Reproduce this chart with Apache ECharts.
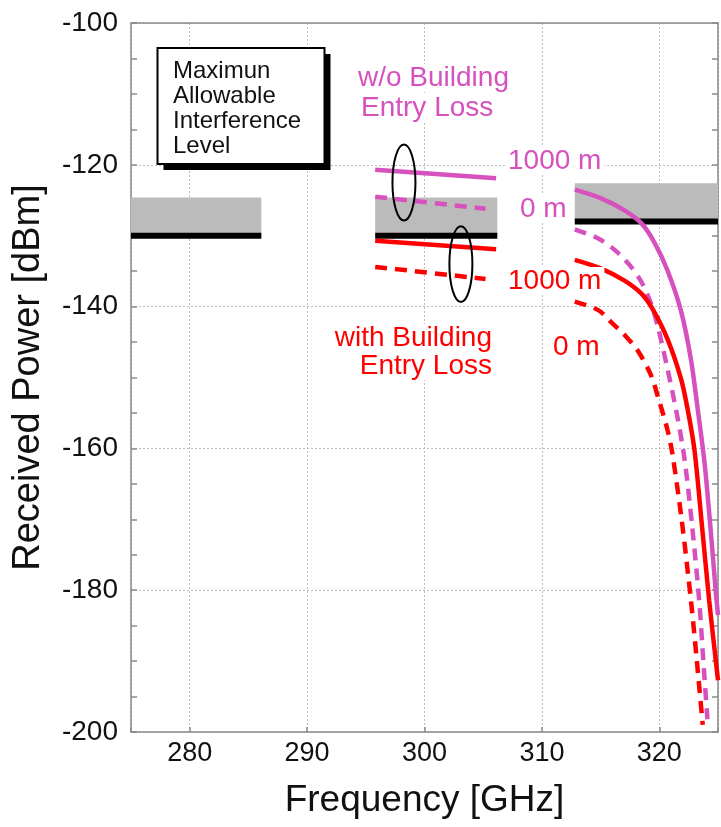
<!DOCTYPE html>
<html>
<head>
<meta charset="utf-8">
<script src="https://cdn.jsdelivr.net/npm/echarts@6/dist/echarts.min.js"></script>
<style>
  html, body { margin: 0; padding: 0; background: #fff; }
  #chart { width: 721px; height: 827px; }
</style>
</head>
<body>
<div id="chart"></div>
<script>
// Tick labels
const xTickLabels = [280, 290, 300, 310, 320];
const yTickLabels = [-200, -180, -160, -140, -120, -100];

// Maximum allowable interference level per band: [fStart, fEnd, level, bandTop] (GHz, dBm)
const limitBands = [
  [275.0, 286.1, -130, -124.6],
  [295.8, 306.2, -130, -124.6],
  [312.8, 325.0, -128, -122.6]
];

// Received power, without building entry loss
const woBel1000Mid = [[295.8, -120.7], [306.1, -121.9]];
const woBel0Mid = [[295.8, -124.5], [305.2, -126.2]];
const woBel1000 = [
  [312.8, -123.5], [315.0, -124.7], [317.0, -126.4], [318.5, -128.3], [319.6, -131.0],
  [320.7, -134.9], [321.85, -140.6], [322.7, -147.5], [323.3, -154.8], [323.85, -162.0],
  [324.35, -171.0], [324.8, -180.0], [325.0, -183.5]
];
const woBel0 = [
  [312.8, -129.1], [314.8, -130.4], [316.2, -132.0], [317.6, -134.4], [318.5, -136.6],
  [319.3, -139.6], [319.9, -143.0], [320.7, -148.8], [321.5, -155.2], [322.15, -161.5],
  [322.8, -171.0], [323.4, -181.5], [323.75, -190.0], [324.1, -198.2]
];

// Received power, with building entry loss
const withBel1000Mid = [[295.8, -130.7], [306.1, -131.9]];
const withBel0Mid = [[295.8, -134.4], [305.2, -136.1]];
const withBel1000 = [
  [312.8, -133.4], [315.0, -134.6], [317.0, -136.3], [318.5, -138.2], [319.45, -140.4],
  [320.7, -144.6], [321.85, -150.2], [322.45, -154.8], [323.0, -160.3], [323.6, -170.3],
  [324.25, -181.5], [325.0, -192.7]
];
const withBel0 = [
  [312.8, -139.3], [314.8, -140.5], [315.9, -142.2], [317.1, -144.1], [318.2, -146.3],
  [319.3, -149.7], [319.9, -152.8], [320.7, -157.4], [321.1, -160.6], [321.9, -170.0],
  [322.7, -181.5], [323.2, -190.0], [323.7, -199.0]
];

// Grouping ellipses: [centerFreq, centerPower, halfWidthGHz, halfHeightDb]
const groupEllipses = [
  [298.25, -122.5, 0.98, 5.35],
  [303.1, -134.0, 0.98, 5.35]
];

const MAGENTA = '#d651be';
const RED = '#ff0000';
const FONT = '"Liberation Sans", Arial, Helvetica, sans-serif';

const chart = echarts.init(document.getElementById('chart'), null, { renderer: 'canvas' });

function curve(name, data, color, dashed) {
  return {
    name: name,
    type: 'line',
    data: data,
    showSymbol: false,
    symbol: 'none',
    smooth: 0.3,
    z: 5,
    lineStyle: {
      color: color,
      width: 4.5,
      type: dashed ? [12, 8] : 'solid',
      cap: 'butt'
    },
    silent: true
  };
}

const series = [];

// Shaded interference bands
series.push({
  name: 'band',
  type: 'line',
  data: [],
  silent: true,
  z: 1,
  markArea: {
    silent: true,
    itemStyle: { color: '#bbbbbb' },
    data: limitBands.map(b => [{ coord: [b[0], b[3]] }, { coord: [b[1], b[2]] }])
  }
});

// Black limit lines
limitBands.forEach((b, i) => {
  series.push({
    name: 'limit' + i,
    type: 'line',
    data: [[b[0], b[2]], [b[1], b[2]]],
    symbol: 'none',
    silent: true,
    z: 3,
    lineStyle: { color: '#000', width: 6, cap: 'butt' }
  });
});

series.push(curve('w/o 1000 m mid', woBel1000Mid, MAGENTA, false));
series.push(curve('w/o 0 m mid', woBel0Mid, MAGENTA, true));
series.push(curve('with 1000 m mid', withBel1000Mid, RED, false));
series.push(curve('with 0 m mid', withBel0Mid, RED, true));
series.push(curve('w/o 1000 m', woBel1000, MAGENTA, false));
series.push(curve('w/o 0 m', woBel0, MAGENTA, true));
series.push(curve('with 1000 m', withBel1000, RED, false));
series.push(curve('with 0 m', withBel0, RED, true));

// Ellipses grouping the short segments
series.push({
  name: 'groups',
  type: 'custom',
  data: groupEllipses,
  silent: true,
  z: 6,
  renderItem: function (params, api) {
    const c = api.coord([api.value(0), api.value(1)]);
    const s = api.size([api.value(2), api.value(3)]);
    return {
      type: 'ellipse',
      shape: { cx: c[0], cy: c[1], rx: s[0], ry: s[1] },
      style: { fill: 'none', stroke: '#000', lineWidth: 2 }
    };
  }
});

const axisLineStyle = { color: '#8a8a8a', width: 1.5 };
const gridLineStyle = { color: '#bdbdbd', width: 1, type: [2, 2] };

function label(text, x, y, size, color, align) {
  return {
    type: 'text',
    z: 22,
    style: {
      text: text,
      x: x,
      y: y,
      font: size + 'px ' + FONT,
      fill: color,
      textAlign: align || 'left',
      textVerticalAlign: 'middle',
      backgroundColor: '#fff',
      padding: [0, 3]
    }
  };
}

const option = {
  animation: false,
  backgroundColor: '#fff',
  textStyle: { fontFamily: FONT },
  grid: { left: 131, top: 23, right: 2, bottom: 95, containLabel: false },
  xAxis: [
    {
      type: 'value',
      position: 'bottom',
      min: 275,
      max: 325,
      splitNumber: 5,
      name: 'Frequency [GHz]',
      nameLocation: 'middle',
      nameGap: 50,
      nameTextStyle: { fontSize: 37, color: '#111', fontFamily: FONT },
      axisLine: { show: true, lineStyle: axisLineStyle },
      axisTick: { show: true, inside: true, length: 5, lineStyle: axisLineStyle },
      axisLabel: {
        fontSize: 27,
        color: '#111',
        margin: 8,
        fontFamily: FONT,
        formatter: v => (xTickLabels.indexOf(v) >= 0 ? String(v) : '')
      },
      splitLine: { show: true, lineStyle: gridLineStyle }
    },
    {
      type: 'value',
      position: 'top',
      min: 275,
      max: 325,
      splitNumber: 5,
      axisLine: { show: true, lineStyle: axisLineStyle },
      axisTick: { show: false },
      axisLabel: { show: false },
      splitLine: { show: false }
    }
  ],
  yAxis: [
    {
      type: 'value',
      position: 'left',
      min: -200,
      max: -100,
      interval: 20,
      name: 'Received Power [dBm]',
      nameLocation: 'middle',
      nameGap: 83,
      nameTextStyle: { fontSize: 38, color: '#111', fontFamily: FONT },
      axisLine: { show: true, lineStyle: axisLineStyle },
      axisTick: { show: true, inside: true, length: 6, lineStyle: axisLineStyle },
      minorTick: { show: true, splitNumber: 4, length: 6, lineStyle: axisLineStyle },
      axisLabel: {
        fontSize: 28,
        color: '#111',
        margin: 13,
        fontFamily: FONT,
        formatter: v => (yTickLabels.indexOf(v) >= 0 ? String(v) : '')
      },
      splitLine: { show: true, lineStyle: gridLineStyle }
    },
    {
      type: 'value',
      position: 'right',
      min: -200,
      max: -100,
      interval: 20,
      axisLine: { show: true, lineStyle: axisLineStyle },
      axisTick: { show: true, inside: true, length: 6, lineStyle: axisLineStyle },
      minorTick: { show: true, splitNumber: 4, length: 6, lineStyle: axisLineStyle },
      axisLabel: { show: false },
      splitLine: { show: false }
    }
  ],
  series: series,
  graphic: [
    // Note box with drop shadow
    { type: 'rect', z: 20, shape: { x: 163.5, y: 54, width: 167, height: 116 }, style: { fill: '#000' } },
    { type: 'rect', z: 21, shape: { x: 157.5, y: 48, width: 167, height: 116 }, style: { fill: '#fff', stroke: '#000', lineWidth: 2 } },
    { type: 'text', z: 22, style: { text: 'Maximun', x: 173, y: 71, font: '24px ' + FONT, fill: '#111', textVerticalAlign: 'middle' } },
    { type: 'text', z: 22, style: { text: 'Allowable', x: 173, y: 96, font: '24px ' + FONT, fill: '#111', textVerticalAlign: 'middle' } },
    { type: 'text', z: 22, style: { text: 'Interference', x: 173, y: 121, font: '24px ' + FONT, fill: '#111', textVerticalAlign: 'middle' } },
    { type: 'text', z: 22, style: { text: 'Level', x: 173, y: 146, font: '24px ' + FONT, fill: '#111', textVerticalAlign: 'middle' } },

    // Curve group labels
    label('w/o Building', 355, 78, 28, MAGENTA),
    label('Entry Loss', 358, 108, 28, MAGENTA),
    label('with Building', 495, 338, 28, RED, 'right'),
    label('Entry Loss', 495, 366, 28, RED, 'right'),

    // Distance labels
    label('1000 m', 505, 161, 28, MAGENTA),
    label('0 m', 517, 209, 28, MAGENTA),
    label('1000 m', 505, 281, 28, RED),
    label('0 m', 550, 347, 28, RED)
  ]
};

chart.setOption(option);
</script>
</body>
</html>
